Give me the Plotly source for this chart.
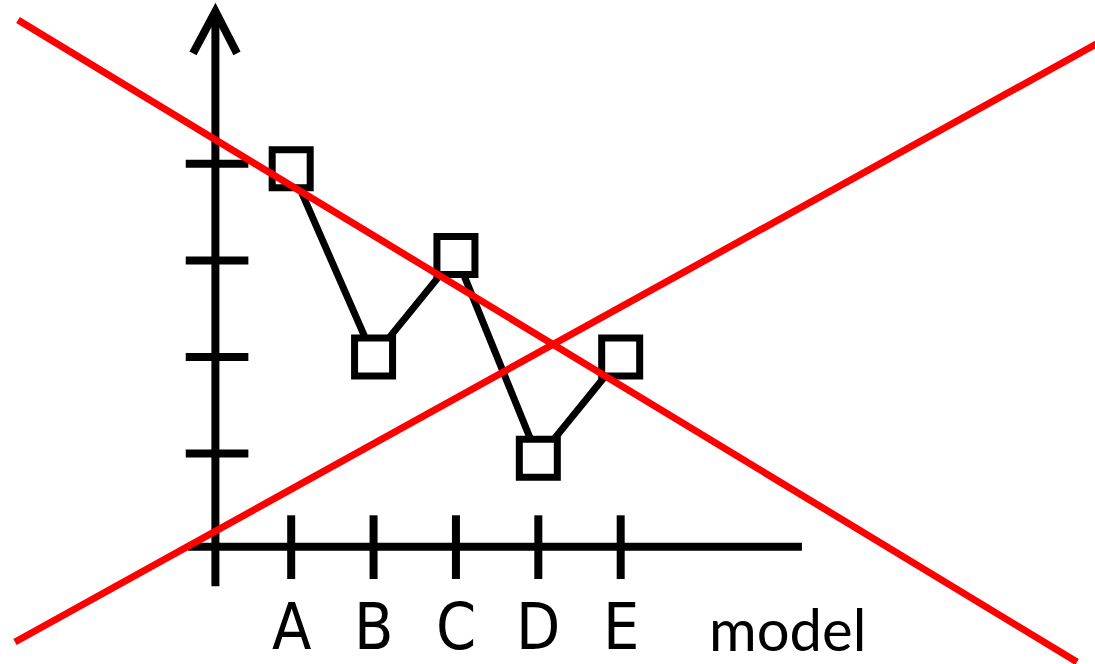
import plotly.graph_objects as go

# Model scores, one point per model
models = ["A", "B", "C", "D", "E"]
scores = [3.95, 2.0, 3.05, 0.95, 2.0]
y_ticks = [1, 2, 3, 4]
x_title = "model"

W, H = 1095, 664
X_RANGE = [-3.535, 9.758]
Y_RANGE = [-1.18, 5.697]

INK = "black"
CROSS = "#ff0000"


def px_to_paper(px, py):
    return px / W, 1 - py / H


fig = go.Figure()

fig.add_trace(go.Scatter(
    x=models,
    y=scores,
    mode="lines+markers",
    line=dict(color=INK, width=7),
    marker=dict(symbol="square", size=38, color="white",
                line=dict(color=INK, width=7)),
    hoverinfo="skip",
    showlegend=False,
))

shapes = []

# hand-drawn style axes
AXIS_X = -0.92   # x position of the vertical axis
AXIS_Y = 0.035   # y position of the horizontal axis
shapes.append(dict(type="line", xref="x", yref="y", x0=AXIS_X, x1=AXIS_X,
                   y0=-0.375, y1=5.58, line=dict(color=INK, width=8)))
shapes.append(dict(type="path", xref="x", yref="y",
                   path=f"M -1.192,5.145 L {AXIS_X},5.58 L -0.658,5.145",
                   line=dict(color=INK, width=8)))
shapes.append(dict(type="line", xref="x", yref="y", x0=-1.253, x1=6.2,
                   y0=AXIS_Y, y1=AXIS_Y, line=dict(color=INK, width=8)))
for v in y_ticks:
    shapes.append(dict(type="line", xref="x", yref="y", x0=-1.28, x1=-0.52,
                       y0=v, y1=v, line=dict(color=INK, width=8)))
for i, _ in enumerate(models):
    shapes.append(dict(type="line", xref="x", yref="y", x0=i, x1=i,
                       y0=0.36, y1=-0.30, line=dict(color=INK, width=8)))

# red cross over the whole chart
for (ax, ay), (bx, by) in [((18, 20), (1077, 662)), ((15, 642), (1100, 42))]:
    x0, y0 = px_to_paper(ax, ay)
    x1, y1 = px_to_paper(bx, by)
    shapes.append(dict(type="line", xref="paper", yref="paper",
                       x0=x0, y0=y0, x1=x1, y1=y1,
                       line=dict(color=CROSS, width=7)))

annotations = []
for m in models:
    annotations.append(dict(
        x=m, y=-0.80, xref="x", yref="y", text=m, showarrow=False,
        font=dict(family="Liberation Sans Narrow, DejaVu Sans Condensed, sans-serif",
                  size=64, color=INK),
        xanchor="center", yanchor="middle",
    ))
annotations.append(dict(
    x=787 / W, y=1 - 628 / H, xref="paper", yref="paper", text=x_title,
    showarrow=False, font=dict(family="Lato, sans-serif", size=58, color=INK),
    xanchor="center", yanchor="middle",
))

fig.update_layout(
    width=W, height=H,
    margin=dict(l=0, r=0, t=0, b=0),
    paper_bgcolor="white", plot_bgcolor="white",
    xaxis=dict(type="category", range=X_RANGE, visible=False,
               categoryorder="array", categoryarray=models),
    yaxis=dict(range=Y_RANGE, visible=False),
    shapes=shapes,
    annotations=annotations,
)

fig.write_html("out.html", config={"displayModeBar": False},
               post_script="document.body.style.margin='0';")
